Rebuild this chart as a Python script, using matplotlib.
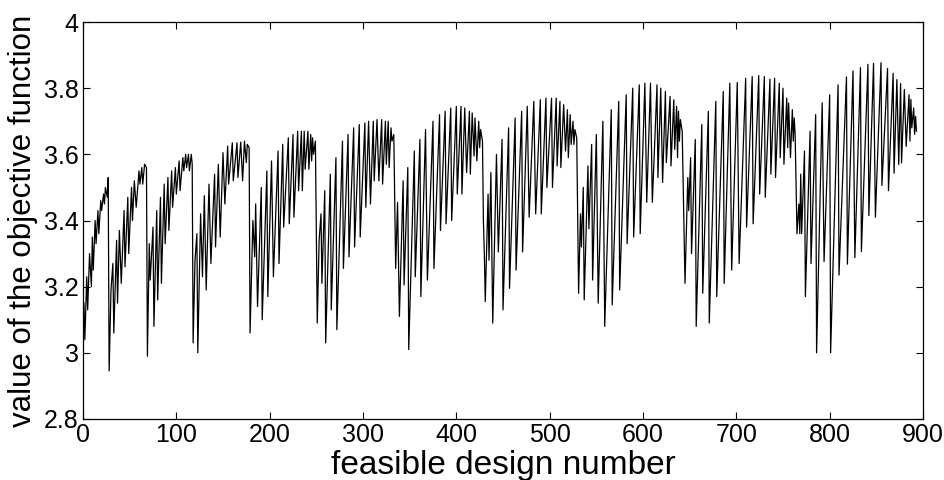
import numpy as np
import matplotlib
matplotlib.use('Agg')
import matplotlib.pyplot as plt

plt.rcParams['font.family'] = ['Liberation Sans', 'DejaVu Sans']

# design number / objective value at each turning point, one block per sweep
x1 = [1, 2, 4, 5, 7, 9, 10, 11, 13, 14, 16, 17, 19, 20, 22, 23, 24, 26, 27]
y1 = [3.15, 3.04, 3.23, 3.13, 3.30, 3.20, 3.35, 3.25, 3.40, 3.33, 3.43, 3.36,
      3.46, 3.43, 3.48, 3.45, 3.50, 3.47, 3.53]

x2 = [28, 30, 32, 33, 36, 37, 39, 41, 44, 45, 48, 49, 52, 53, 55, 57, 60, 61,
      63, 64, 66, 68]
y2 = [2.945, 3.19, 3.27, 3.06, 3.34, 3.15, 3.37, 3.21, 3.43, 3.26, 3.47, 3.30,
      3.50, 3.40, 3.52, 3.44, 3.55, 3.51, 3.56, 3.51, 3.57, 3.56]

x3 = [69, 71, 72, 75, 76, 79, 80, 83, 84, 87, 88, 91, 92, 95, 96, 99, 100, 103,
      104, 107, 108, 110, 111, 113, 114, 116, 117]
y3 = [2.99, 3.33, 3.22, 3.38, 3.08, 3.43, 3.16, 3.47, 3.21, 3.51, 3.33, 3.53,
      3.37, 3.55, 3.44, 3.56, 3.48, 3.58, 3.49, 3.59, 3.55, 3.60, 3.56, 3.60,
      3.55, 3.60, 3.57]

x4 = [118, 120, 122, 123, 126, 128, 130, 132, 135, 137, 141, 142, 145, 147,
      150, 152, 155, 156, 160, 161, 165, 166, 169, 171, 173, 175, 176, 178]
y4 = [3.03, 3.28, 3.36, 3.00, 3.42, 3.23, 3.475, 3.19, 3.51, 3.27, 3.54, 3.32,
      3.57, 3.35, 3.605, 3.45, 3.625, 3.51, 3.635, 3.52, 3.635, 3.53, 3.637,
      3.52, 3.64, 3.575, 3.63, 3.62]

x5 = [179, 182, 184, 185, 187, 191, 192, 197, 198, 202, 204, 209, 210, 214,
      215, 220, 221, 225, 226, 230, 231, 234, 235, 237, 238, 241, 242, 244,
      245, 246, 247, 249]
y5 = [3.06, 3.40, 3.29, 3.45, 3.14, 3.50, 3.10, 3.55, 3.17, 3.58, 3.23, 3.61,
      3.27, 3.63, 3.38, 3.65, 3.39, 3.66, 3.41, 3.67, 3.49, 3.67, 3.49, 3.67,
      3.555, 3.67, 3.555, 3.66, 3.58, 3.65, 3.60, 3.64]

x6 = [251, 253, 255, 256, 259, 260, 265, 266, 271, 272, 278, 279, 284, 285,
      290, 291, 296, 297, 302, 303, 306, 308, 311, 312, 315, 317, 320, 321,
      324, 325, 327, 328, 330, 331, 333]
y6 = [3.09, 3.34, 3.42, 3.21, 3.49, 3.03, 3.54, 3.13, 3.59, 3.07, 3.64, 3.255,
      3.66, 3.29, 3.68, 3.32, 3.69, 3.35, 3.695, 3.44, 3.70, 3.45, 3.70, 3.52,
      3.705, 3.52, 3.705, 3.51, 3.70, 3.57, 3.70, 3.56, 3.68, 3.64, 3.66]

x7 = [335, 337, 339, 343, 344, 348, 349, 355, 356, 361, 362, 367, 369, 375,
      376, 382, 383, 388, 389, 394, 395, 400, 401, 405, 406, 409, 411, 414,
      415, 417, 419, 420, 422, 424, 425, 426, 428]
y7 = [3.255, 3.455, 3.11, 3.52, 3.205, 3.56, 3.01, 3.61, 3.23, 3.645, 3.17,
      3.675, 3.22, 3.70, 3.255, 3.72, 3.37, 3.73, 3.39, 3.74, 3.40, 3.745,
      3.48, 3.745, 3.48, 3.74, 3.545, 3.73, 3.54, 3.725, 3.595, 3.71, 3.58,
      3.70, 3.62, 3.675, 3.64]

x8 = [429, 430, 431, 434, 435, 437, 439, 443, 445, 449, 450, 456, 457, 463,
      464, 470, 471, 476, 478, 483, 485, 490, 491, 496, 497, 502, 503, 507,
      508, 511, 512, 515, 517, 519, 520, 522, 523, 525, 526, 527, 529]
y8 = [3.40, 3.30, 3.155, 3.48, 3.28, 3.545, 3.09, 3.60, 3.305, 3.645, 3.13,
      3.68, 3.195, 3.71, 3.25, 3.73, 3.305, 3.745, 3.41, 3.76, 3.42, 3.765,
      3.42, 3.77, 3.50, 3.77, 3.50, 3.77, 3.565, 3.76, 3.56, 3.75, 3.61, 3.735,
      3.59, 3.72, 3.63, 3.70, 3.63, 3.675, 3.65]

x9 = [531, 533, 534, 536, 537, 541, 542, 545, 546, 550, 552, 557, 559, 566,
      567, 574, 575, 582, 583, 589, 590, 596, 597, 602, 604, 608, 610, 615,
      616, 619, 621, 624, 625, 629, 630, 633, 634, 636, 637, 638, 639, 640, 642]
y9 = [3.18, 3.42, 3.32, 3.50, 3.16, 3.565, 3.375, 3.63, 3.22, 3.66, 3.15, 3.70,
      3.08, 3.735, 3.145, 3.76, 3.19, 3.78, 3.33, 3.80, 3.35, 3.81, 3.36, 3.815,
      3.455, 3.815, 3.455, 3.81, 3.53, 3.80, 3.515, 3.79, 3.575, 3.775, 3.565,
      3.765, 3.615, 3.745, 3.59, 3.73, 3.64, 3.705, 3.67]

x10 = [645, 648, 649, 651, 652, 656, 657, 663, 664, 670, 671, 678, 679, 686,
       687, 693, 695, 701, 703, 710, 711, 717, 718, 724, 725, 730, 731, 736,
       737, 741, 742, 746, 747, 750, 751, 754, 755, 756, 758, 760, 761, 762, 763]
y10 = [3.21, 3.53, 3.43, 3.59, 3.30, 3.645, 3.08, 3.69, 3.18, 3.73, 3.09, 3.76,
       3.17, 3.79, 3.21, 3.815, 3.25, 3.817, 3.27, 3.83, 3.38, 3.835, 3.39,
       3.838, 3.48, 3.835, 3.47, 3.827, 3.54, 3.83, 3.53, 3.815, 3.59, 3.80,
       3.57, 3.77, 3.62, 3.755, 3.59, 3.735, 3.64, 3.71, 3.66]

x11 = [765, 767, 768, 769, 770, 773, 774, 779, 780, 785, 786, 792, 794, 800,
       801, 809, 810, 818, 819, 825, 827, 833, 834, 841, 842, 847, 849, 855,
       856, 862, 863, 868, 869, 872, 874, 876, 877, 880, 882, 885, 886, 887,
       888, 890, 891, 892, 893]
y11 = [3.36, 3.45, 3.36, 3.54, 3.36, 3.61, 3.17, 3.67, 3.27, 3.72, 3.00, 3.756,
       3.276, 3.78, 3.00, 3.81, 3.235, 3.834, 3.268, 3.852, 3.288, 3.862, 3.306,
       3.872, 3.415, 3.875, 3.41, 3.877, 3.506, 3.86, 3.49, 3.845, 3.543, 3.826,
       3.569, 3.814, 3.574, 3.796, 3.624, 3.78, 3.64, 3.766, 3.68, 3.74, 3.66,
       3.715, 3.67]

X_TICKS = [0, 100, 200, 300, 400, 500, 600, 700, 800, 900]
Y_TICKS = [2.8, 3.0, 3.2, 3.4, 3.6, 3.8, 4.0]
Y_TICKLABELS = ['2.8', '3', '3.2', '3.4', '3.6', '3.8', '4']


design = np.concatenate([x1, x2, x3, x4, x5, x6, x7, x8, x9, x10, x11])
objective = np.concatenate([y1, y2, y3, y4, y5, y6, y7, y8, y9, y10, y11])

fig = plt.figure(figsize=(9.45, 4.8), dpi=100)
ax = fig.add_axes([83 / 945, 1 - 419 / 480, 840 / 945, 397 / 480])
ax.plot(design, objective, color='black', linewidth=0.9)

ax.set_xlim(0, 900)
ax.set_ylim(2.8, 4.0)
ax.set_xticks(X_TICKS)
ax.set_yticks(Y_TICKS)
ax.set_yticklabels(Y_TICKLABELS)
ax.tick_params(direction='in', top=True, right=True, length=5, width=0.8,
               labelsize=18, pad=3)
for s in ax.spines.values():
    s.set_linewidth(0.9)

ax.set_xlabel('feasible design number', fontsize=24, va='center')
ax.set_ylabel('value of the objective function', fontsize=22.5, va='center')
ax.xaxis.set_label_coords(0.5, -0.118)
ax.yaxis.set_label_coords(-0.072, 0.5)

fig.savefig('out.png', dpi=100)
